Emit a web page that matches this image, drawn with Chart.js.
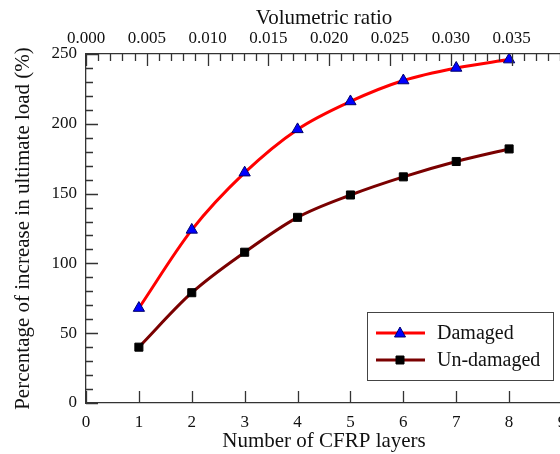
<!DOCTYPE html>
<html>
<head>
<meta charset="utf-8">
<script src="https://cdn.jsdelivr.net/npm/chart.js@4.4.1/dist/chart.umd.min.js"></script>
<style>
  html, body { margin: 0; padding: 0; background: #fff; overflow: hidden; }
  #wrap { width: 580px; height: 454px; }
</style>
</head>
<body>
<div id="wrap"><canvas id="myChart" width="580" height="454"></canvas></div>
<script>
"use strict";

// values
var layers = [1, 2, 3, 4, 5, 6, 7, 8];
var damaged = [68, 124, 165, 196, 216, 231, 240, 246];
var undamaged = [40, 79, 108, 133, 149, 162, 173, 182];
var layerTicks = [0, 1, 2, 3, 4, 5, 6, 7, 8, 9];
var ratioTicks = [0.000, 0.005, 0.010, 0.015, 0.020, 0.025, 0.030, 0.035];
var ratioPerLayer = 0.00435;

var serif = "'Liberation Serif', 'DejaVu Serif', serif";
var axisColor = '#333';

function toPoints(ys) {
  return layers.map(function(x, i) { return { x: x, y: ys[i] }; });
}

// inward tick marks, the way the plotting program draws them
var innerTicks = {
  id: 'innerTicks',
  afterDraw: function(chart) {
    var ctx = chart.ctx;
    var area = chart.chartArea;
    var x = chart.scales.x, y = chart.scales.y, top = chart.scales.x2;
    ctx.save();
    ctx.strokeStyle = axisColor;
    ctx.lineWidth = 1.3;
    ctx.beginPath();
    layerTicks.forEach(function(v) {
      var px = Math.round(x.getPixelForValue(v)) + 0.5;
      ctx.moveTo(px, area.bottom);
      ctx.lineTo(px, area.bottom - 12);
    });
    for (var v = 0; v <= 250; v += 10) {
      var py = Math.round(y.getPixelForValue(v)) + 0.5;
      ctx.moveTo(area.left, py);
      ctx.lineTo(area.left + (v % 50 === 0 ? 12 : 7), py);
    }
    for (var i = 0; i <= 40; i++) {
      var r = i / 1000;
      var tx = Math.round(top.getPixelForValue(r)) + 0.5;
      ctx.moveTo(tx, area.top);
      ctx.lineTo(tx, area.top + (i % 5 === 0 ? 12 : 7));
    }
    ctx.stroke();
    ctx.restore();
  }
};

function drawMarker(ctx, style, x, y) {
  ctx.beginPath();
  if (style === 'triangle') {
    ctx.moveTo(x, y - 6);
    ctx.lineTo(x + 5.5, y + 4);
    ctx.lineTo(x - 5.5, y + 4);
    ctx.closePath();
    ctx.fillStyle = '#0000ff';
    ctx.strokeStyle = '#00006a';
  } else {
    ctx.rect(x - 4, y - 4, 8, 8);
    ctx.fillStyle = '#000';
    ctx.strokeStyle = '#000';
  }
  ctx.lineWidth = 1;
  ctx.fill();
  ctx.stroke();
}

// boxed legend at the lower right of the plot
var boxLegend = {
  id: 'boxLegend',
  afterDraw: function(chart) {
    var ctx = chart.ctx;
    var area = chart.chartArea;
    var w = 186, h = 68;
    var bx = area.right - 9 - w, by = area.bottom - 23 - h;
    ctx.save();
    ctx.fillStyle = '#fff';
    ctx.fillRect(bx, by, w, h);
    ctx.strokeStyle = '#444';
    ctx.lineWidth = 1;
    ctx.strokeRect(bx + 0.5, by + 0.5, w, h);
    chart.data.datasets.forEach(function(ds, i) {
      var ly = by + 21 + i * 27;
      ctx.strokeStyle = ds.borderColor;
      ctx.lineWidth = 3;
      ctx.beginPath();
      ctx.moveTo(bx + 9, ly);
      ctx.lineTo(bx + 58, ly);
      ctx.stroke();
      drawMarker(ctx, ds.pointStyle, bx + 33, ly);
      ctx.fillStyle = '#111';
      ctx.font = '20px ' + serif;
      ctx.textBaseline = 'middle';
      ctx.textAlign = 'left';
      ctx.fillText(ds.label, bx + 70, ly + 1);
    });
    ctx.restore();
  }
};

var ctx = document.getElementById('myChart').getContext('2d');
var chart = new Chart(ctx, {
  type: 'line',
  data: {
    datasets: [{
      label: 'Damaged',
      data: toPoints(damaged),
      borderColor: '#ff0000',
      borderWidth: 3,
      pointStyle: 'triangle',
      pointRadius: 6.5,
      pointBackgroundColor: '#0000ff',
      pointBorderColor: '#00006a',
      pointBorderWidth: 1,
      cubicInterpolationMode: 'monotone',
      fill: false
    }, {
      label: 'Un-damaged',
      data: toPoints(undamaged),
      borderColor: '#7a0000',
      borderWidth: 3,
      pointStyle: 'rect',
      pointRadius: 5.7,
      pointBackgroundColor: '#000',
      pointBorderColor: '#000',
      pointBorderWidth: 1,
      cubicInterpolationMode: 'monotone',
      fill: false
    }]
  },
  options: {
    responsive: false,
    animation: false,
    layout: { padding: { left: 0, right: 18, top: 0, bottom: 0 } },
    plugins: { legend: { display: false }, tooltip: { enabled: false } },
    scales: {
      x: {
        type: 'linear',
        position: 'bottom',
        min: 0,
        max: 9,
        afterBuildTicks: function(scale) {
          scale.ticks = layerTicks.map(function(v) { return { value: v }; });
        },
        afterFit: function(scale) { scale.height = 51; },
        grid: { display: false, drawTicks: false },
        border: { display: true, color: axisColor, width: 1.3 },
        ticks: { color: '#111', font: { family: serif, size: 17 }, padding: 9, maxRotation: 0 },
        title: { display: true, text: 'Number of CFRP layers', color: '#111', font: { family: serif, size: 21 }, padding: { top: 0, bottom: 0 } }
      },
      x2: {
        type: 'linear',
        position: 'top',
        min: 0,
        max: 9 * ratioPerLayer,
        afterBuildTicks: function(scale) {
          scale.ticks = ratioTicks.map(function(v) { return { value: v }; });
        },
        afterFit: function(scale) { scale.height = 54; },
        grid: { display: false, drawTicks: false },
        border: { display: true, color: axisColor, width: 1.3 },
        ticks: {
          color: '#111', font: { family: serif, size: 17 }, padding: 5, maxRotation: 0,
          callback: function(v) { return v.toFixed(3); }
        },
        title: { display: true, text: 'Volumetric ratio', color: '#111', font: { family: serif, size: 21 }, padding: { top: 6, bottom: 0 } }
      },
      y: {
        min: 0,
        max: 250,
        afterBuildTicks: function(scale) {
          var t = [];
          for (var v = 0; v <= 250; v += 50) { t.push({ value: v }); }
          scale.ticks = t;
        },
        afterFit: function(scale) { scale.width = 86; },
        grid: { display: false, drawTicks: false },
        border: { display: true, color: axisColor, width: 1.3 },
        ticks: { color: '#111', font: { family: serif, size: 17 }, padding: 9 },
        title: { display: true, text: 'Percentage of increase in ultimate load (%)', color: '#111', font: { family: serif, size: 21 }, padding: { top: 11, bottom: 4 } }
      }
    }
  },
  plugins: [innerTicks, boxLegend]
});
</script>
</body>
</html>
